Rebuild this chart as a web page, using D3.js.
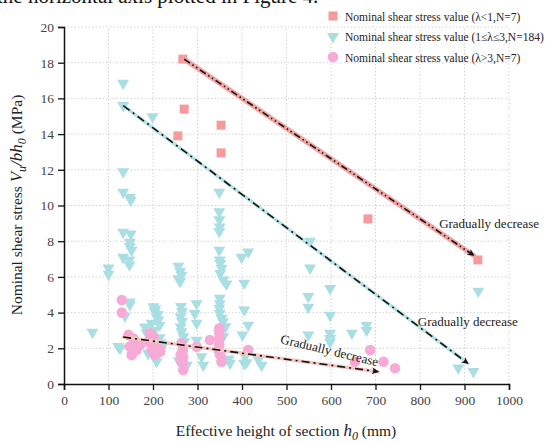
<!DOCTYPE html>
<html><head><meta charset="utf-8">
<script src="https://cdn.jsdelivr.net/npm/d3@7"></script>
<style>
body{margin:0;background:#fff}
text{font-family:"Liberation Serif","Times New Roman",Times,serif}
</style></head>
<body><svg id="chart" width="552" height="443"></svg>
<script>
// h0 (mm), stress (MPa)

var xTicks = [0,100,200,300,400,500,600,700,800,900,1000];
var yTicks = [0,2,4,6,8,10,12,14,16,18,20];

var lowLambda = [[267,18.2],[270,15.4],[256,13.9],[353,14.5],[353,12.95],[683,9.25],[930,6.95]];

var midLambda = [
  [64,2.9],[100,6.5],[100,6.15],
  [133,16.85],[133,15.6],[133,11.9],[133,10.75],[133,8.5],[133,7.1],[137,3.8],[126,2.0],[122,2.1],
  [148,10.45],[150,10.3],[150,8.4],[148,7.95],[148,7.7],[152,7.5],[147,6.95],[147,6.67],[148,4.6],[148,4.45],
  [199,14.97],[201,4.33],[204,4.05],[208,3.77],[197,3.4],[182,3.2],[186,2.85],[205,4.2],[210,3.9],[212,3.6],
  [215,3.3],[203,3.0],[189,1.72],[208,1.25],[223,2.18],[210,1.6],[215,2.6],[218,2.3],
  [257,6.6],[261,6.3],[257,5.9],[261,5.75],[264,6.1],
  [263,4.35],[265,4.05],[262,3.77],[265,3.5],[262,3.2],[264,2.93],[268,2.65],[270,2.37],[276,1.06],[258,1.3],
  [298,4.5],[294,3.95],[298,3.4],[298,2.46],[309,1.53],[313,1.06],
  [349,10.75],[349,9.65],[349,9.2],[350,8.8],[349,8.55],[349,7.5],[350,6.95],[351,6.75],[354,6.48],[351,6.2],
  [358,5.83],[365,5.6],[350,4.8],[350,4.5],[349,4.24],[350,3.96],[354,3.68],[357,3.49],[363,3.21],[349,2.85],
  [358,2.65],[373,1.16],[370,1.4],
  [399,7.1],[414,7.4],[405,5.65],[405,4.15],[414,3.3],[401,2.75],[405,1.15],[407,1.55],[410,1.2],
  [437,1.35],[444,1.05],
  [553,8.0],[553,6.5],[549,4.9],[549,4.3],[549,2.75],
  [598,5.35],[598,3.85],[598,2.85],[598,2.55],[598,2.35],
  [647,2.85],[680,3.3],[680,3.0],[931,5.2],[886,0.9],[920,0.7]
];

var highLambda = [
  [130,4.7],[130,4.0],
  [145,2.75],[156,2.55],[163,2.37],[148,2.1],[171,2.18],[152,1.62],[163,1.9],
  [193,2.84],[201,2.65],[189,2.37],[208,2.09],[197,1.9],[216,1.81],[204,1.62],[216,1.9],
  [264,2.28],[267,1.9],[268,1.53],[268,1.16],[268,0.78],[262,1.62],[264,1.25],
  [298,2.09],[328,2.46],
  [349,3.12],[349,2.84],[349,2.56],[349,2.18],[347,1.9],[351,1.62],[354,1.25],
  [414,1.9],[688,1.9],[654,1.25],[718,1.25],[744,0.88]
];

var lowTrend = [[270,18.2],[921,7.2]];
var midTrend = [[133,15.6],[908,1.15]];
var highTrend = [[133,2.63],[706,0.69]];

var legendLabels = ["Nominal shear stress value (\u03bb<1,N=7)",
                    "Nominal shear stress value (1\u2264\u03bb\u22643,N=184)",
                    "Nominal shear stress value (\u03bb>3,N=7)"];

var colSquare = "#f79a9b", colTri = "#a9dee3", colCirc = "#f8aad6";

var svg = d3.select("#chart");
svg.append("rect").attr("width",552).attr("height",443).attr("fill","#fff");

// cut-off caption line at the top of the crop
svg.append("text").attr("x",-3).attr("y",3).attr("font-size","21px").attr("fill","#111")
   .text("the horizontal axis plotted in Figure 4.");

var x = d3.scaleLinear().domain([0,1000]).range([64,509]);
var y = d3.scaleLinear().domain([0,20]).range([384,27]);

// grid
svg.append("g").selectAll("line").data(xTicks.slice(1)).enter().append("line")
   .attr("x1",d=>x(d)).attr("x2",d=>x(d)).attr("y1",y(0)).attr("y2",y(20))
   .attr("stroke","#c8c8c8").attr("stroke-width",0.8).attr("stroke-dasharray","1.5,2");
svg.append("g").selectAll("line").data(yTicks.slice(1)).enter().append("line")
   .attr("x1",x(0)).attr("x2",x(1000)).attr("y1",d=>y(d)).attr("y2",d=>y(d))
   .attr("stroke","#c8c8c8").attr("stroke-width",0.8).attr("stroke-dasharray","1.5,2");

// markers
var tri = d3.symbol().type(d3.symbolTriangle).size(62);
svg.append("g").selectAll("path").data(midLambda).enter().append("path")
   .attr("d",tri).attr("fill",colTri)
   .attr("transform",d=>"translate("+x(d[0])+","+y(d[1])+") rotate(180)");

svg.append("g").selectAll("circle").data(highLambda).enter().append("circle")
   .attr("cx",d=>x(d[0])).attr("cy",d=>y(d[1])).attr("r",5.3).attr("fill",colCirc);

svg.append("g").selectAll("rect").data(lowLambda).enter().append("rect")
   .attr("x",d=>x(d[0])-4.5).attr("y",d=>y(d[1])-4.5).attr("width",9).attr("height",9)
   .attr("fill",colSquare);

// trend arrows
svg.append("defs").append("marker").attr("id","arr").attr("viewBox","0 0 10 10")
   .attr("refX",9).attr("refY",5).attr("markerWidth",9).attr("markerHeight",7)
   .attr("markerUnits","userSpaceOnUse").attr("orient","auto")
   .append("path").attr("d","M0,0L10,5L0,10L3,5Z").attr("fill","#111");

var line = d3.line().x(d=>x(d[0])).y(d=>y(d[1]));
function trend(data, glow, glowW, dash) {
  svg.append("path").datum(data).attr("d",line).attr("stroke",glow).attr("stroke-width",glowW)
     .attr("fill","none").attr("stroke-linecap","round");
  svg.append("path").datum(data).attr("d",line).attr("stroke","#111").attr("stroke-width",1.6)
     .attr("fill","none").attr("stroke-dasharray",dash).attr("marker-end","url(#arr)");
}
trend(lowTrend, "#f4a3a3", 5, "7,3,1.5,3,1.5,3");
trend(midTrend, "#b7e3e8", 3.5, "8,4,2,4");
trend(highTrend, "#f6c6c0", 3.5, "8,4,2,4");

// annotations
svg.append("text").attr("x",x(843)).attr("y",y(8.74)).attr("font-size","13px").attr("fill","#222")
   .text("Gradually decrease");
svg.append("text").attr("x",x(795)).attr("y",y(3.25)).attr("font-size","13px").attr("fill","#222")
   .text("Gradually decrease");
svg.append("text").attr("font-size","13px").attr("fill","#222")
   .attr("transform","translate("+x(485)+","+y(2.3)+") rotate(13.5)")
   .text("Gradually decrease");

// axes
var xAxis = svg.append("g").attr("transform","translate(0,"+y(0)+")")
   .call(d3.axisBottom(x).tickValues(xTicks).tickFormat(d3.format("d")).tickSize(6).tickPadding(5));
var yAxis = svg.append("g").attr("transform","translate("+x(0)+",0)")
   .call(d3.axisLeft(y).tickValues(yTicks).tickFormat(d3.format("d")).tickSize(6).tickPadding(4));
[xAxis,yAxis].forEach(function(a){
  a.attr("font-family",null);
  a.select(".domain").attr("stroke","#111").attr("stroke-width",1.5);
  a.selectAll(".tick line").attr("stroke","#111").attr("stroke-width",1.3);
  a.selectAll(".tick text").attr("font-size","13.5px").attr("fill","#444");
});

// axis titles
var xt = svg.append("text").attr("x",286).attr("y",436).attr("text-anchor","middle")
   .attr("font-size","15.5px").attr("fill","#222");
xt.append("tspan").text("Effective height of section ");
xt.append("tspan").attr("font-style","italic").attr("font-size","17px").text("h");
xt.append("tspan").attr("font-style","italic").attr("font-size","12px").attr("dy",4).text("0");
xt.append("tspan").attr("dy",-4).text(" (mm)");

var yt = svg.append("text").attr("transform","translate(22,205) rotate(-90)").attr("text-anchor","middle")
   .attr("font-size","15.5px").attr("fill","#222");
yt.append("tspan").text("Nominal shear stress ");
yt.append("tspan").attr("font-style","italic").attr("font-size","17px").text("V");
yt.append("tspan").attr("font-style","italic").attr("font-size","12px").attr("dy",4).text("u");
yt.append("tspan").attr("font-style","italic").attr("font-size","17px").attr("dy",-4).text("/bh");
yt.append("tspan").attr("font-style","italic").attr("font-size","12px").attr("dy",4).text("0");
yt.append("tspan").attr("dy",-4).text(" (MPa)");

// legend
var leg = svg.append("g").selectAll("g").data(legendLabels).enter().append("g")
   .attr("transform",(d,i)=>"translate(333,"+(16+i*20.5)+")");
leg.append("text").attr("x",12).attr("y",4.5).attr("font-size","11.5px").attr("fill","#222").text(d=>d);
leg.filter((d,i)=>i==0).append("rect").attr("x",-4.5).attr("y",-4.5).attr("width",9).attr("height",9).attr("fill",colSquare);
leg.filter((d,i)=>i==1).append("path").attr("d",tri).attr("fill",colTri).attr("transform","rotate(180)");
leg.filter((d,i)=>i==2).append("circle").attr("r",5.3).attr("fill",colCirc);
</script></body></html>
